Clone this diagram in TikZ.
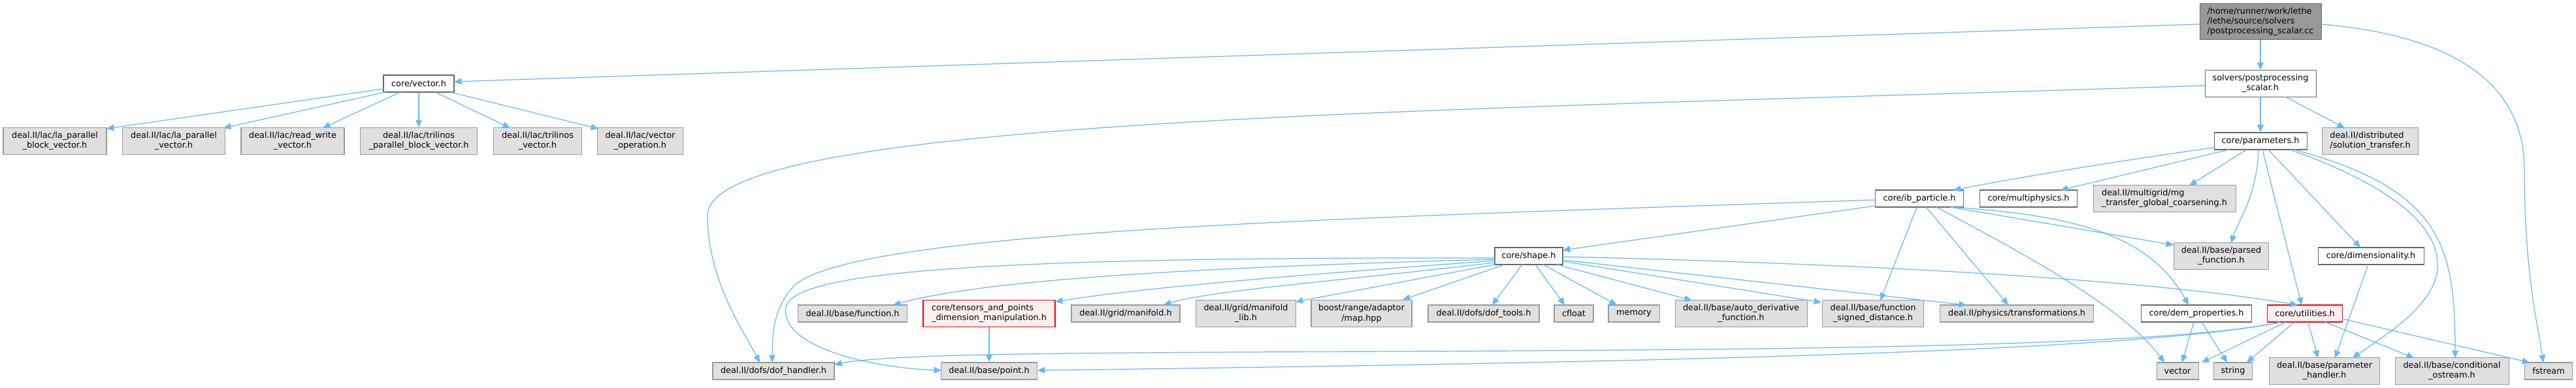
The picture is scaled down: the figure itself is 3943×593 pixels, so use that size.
\documentclass[tikz,border=0pt]{standalone}
\usepackage{fontspec}
\setmainfont{DejaVu Sans}
\usetikzlibrary{arrows.meta,calc}
\definecolor{edgec}{HTML}{63B8FF}
\definecolor{wborder}{HTML}{666666}
\definecolor{gborder}{HTML}{999999}
\definecolor{gfill}{HTML}{E0E0E0}
\definecolor{rfill}{HTML}{FFF0F0}
\definecolor{rborder}{HTML}{FF0000}
\definecolor{rootfill}{HTML}{999999}
\begin{document}
\begin{tikzpicture}[x=0.02cm,y=-0.02cm,
  font=\fontsize{7.3pt}{8.6pt}\selectfont,
  nd/.style={draw, line width=0.6pt, inner sep=0pt, align=center, minimum height=26*0.02cm},
  wb/.style={nd, draw=wborder, fill=white},
  gb/.style={nd, draw=gborder, fill=gfill},
  rb/.style={nd, draw=rborder, fill=rfill},
  rootbox/.style={nd, draw=wborder, fill=rootfill},
  bw/.style={minimum width=#1*0.02cm},
  tl/.style={minimum height=41*0.02cm},
  conn/.style={draw=edgec, line width=0.7pt, -{Triangle[length=6.5pt,width=5.5pt]}}
]
\useasboundingbox (0,0) rectangle (3943,593);
% row 1-2
\node[rootbox, bw=186, minimum height=55*0.02cm, align=left] (root) at (3460,33) {/home/runner/work/lethe\\/lethe/source/solvers\\/postprocessing\_scalar.cc};
\node[wb, bw=170, tl] (sol) at (3460,128) {solvers/postprocessing\\\_scalar.h};
\node[wb, bw=108] (vec) at (641,128) {core/vector.h};
% row 3
\node[gb, bw=158, tl] (lpbv) at (84,216) {deal.II/lac/la\_parallel\\\_block\_vector.h};
\node[gb, bw=157, tl] (lpv) at (266,216) {deal.II/lac/la\_parallel\\\_vector.h};
\node[gb, bw=158, tl] (rwv) at (448,216) {deal.II/lac/read\_write\\\_vector.h};
\node[gb, bw=179, tl] (tpbv) at (641,216) {deal.II/lac/trilinos\\\_parallel\_block\_vector.h};
\node[gb, bw=135, tl] (tv) at (823,216) {deal.II/lac/trilinos\\\_vector.h};
\node[gb, bw=131, tl] (vop) at (980,216) {deal.II/lac/vector\\\_operation.h};
\node[wb, bw=142] (par) at (3460,216) {core/parameters.h};
\node[gb, bw=147, tl, align=left] (st) at (3628,216) {deal.II/distributed\\/solution\_transfer.h};
% row 4
\node[wb, bw=135] (ib) at (2938,304) {core/ib\_particle.h};
\node[wb, bw=149] (mph) at (3105,304) {core/multiphysics.h};
\node[gb, bw=218, tl, align=left] (mg) at (3313,304) {deal.II/multigrid/mg\\\_transfer\_global\_coarsening.h};
% row 5
\node[wb, bw=104] (shape) at (2340,392) {core/shape.h};
\node[gb, bw=145, tl] (pf) at (3400,392) {deal.II/base/parsed\\\_function.h};
\node[wb, bw=162] (dim) at (3629,392) {core/dimensionality.h};
% row 6
\node[gb, bw=167] (fn) at (1305,480) {deal.II/base/function.h};
\node[rb, bw=202, tl, align=left] (tens) at (1514,480) {core/tensors\_and\_points\\\_dimension\_manipulation.h};
\node[gb, bw=166] (man) at (1723,480) {deal.II/grid/manifold.h};
\node[gb, bw=153, tl] (manl) at (1907,480) {deal.II/grid/manifold\\\_lib.h};
\node[gb, bw=154, tl] (boost) at (2084,480) {boost/range/adaptor\\/map.hpp};
\node[gb, bw=170] (dft) at (2271,480) {deal.II/dofs/dof\_tools.h};
\node[gb, bw=60] (cfl) at (2409,480) {cfloat};
\node[gb, bw=78] (mem) at (2501,480) {memory};
\node[gb, bw=202, tl] (adf) at (2665,480) {deal.II/base/auto\_derivative\\\_function.h};
\node[gb, bw=155, tl] (fsd) at (2867,480) {deal.II/base/function\\\_signed\_distance.h};
\node[gb, bw=235] (trf) at (3087,480) {deal.II/physics/transformations.h};
\node[wb, bw=169] (dem) at (3362,480) {core/dem\_properties.h};
\node[rb, bw=115] (util) at (3528,480) {core/utilities.h};
% row 7
\node[gb, bw=186] (dof) at (1184,568) {deal.II/dofs/dof\_handler.h};
\node[gb, bw=147] (pt) at (1514,568) {deal.II/base/point.h};
\node[gb, bw=64] (vecs) at (3333,568) {vector};
\node[gb, bw=59] (str) at (3418,568) {string};
\node[gb, bw=169, tl] (ph) at (3558,568) {deal.II/base/parameter\\\_handler.h};
\node[gb, bw=174, tl] (co) at (3753,568) {deal.II/base/conditional\\\_ostream.h};
\node[gb, bw=73] (fs) at (3901,568) {fstream};

% root edges
\draw[conn] ($(root)+(-93,4)$) -- ($(vec)+(54,-3)$);
\draw[conn] (root.south) -- (sol.north);
\draw[conn] ($(root)+(93,4)$) .. controls (3760,55) and (3864,130) .. (3864,260) .. controls (3864,420) and (3885,500) .. ($(fs)+(-8,-13)$);
% vector.h edges
\draw[conn] ($(vec)+(-54,8)$) -- ($(lpbv)+(79,-19)$);
\draw[conn] ($(vec)+(-51,13)$) -- ($(lpv)+(76,-20)$);
\draw[conn] ($(vec)+(-28,13)$) -- ($(rwv)+(46,-20)$);
\draw[conn] (vec.south) -- (tpbv.north);
\draw[conn] ($(vec)+(25,13)$) -- ($(tv)+(-42,-20)$);
\draw[conn] ($(vec)+(48,13)$) -- ($(vop)+(-64,-19)$);
% solvers edges
\draw[conn] (sol.south) -- (par.north);
\draw[conn] ($(sol)+(38,20)$) -- ($(st)+(-39,-20)$);
\draw[conn] ($(sol)+(-85,3)$) .. controls (2200,170) and (1083,180) .. (1083,330) .. controls (1083,430) and (1140,510) .. ($(dof)+(-21,-13)$);
% parameters edges
\draw[conn] ($(par)+(-71,10)$) .. controls (3250,245) and (3100,270) .. ($(ib)+(52,-13)$);
\draw[conn] ($(par)+(-48,13)$) -- ($(mph)+(49,-13)$);
\draw[conn] ($(par)+(-21,13)$) -- ($(mg)+(38,-20)$);
\draw[conn] ($(par)+(-3,13)$) .. controls (3455,300) and (3425,340) .. ($(pf)+(15,-20)$);
\draw[conn] ($(par)+(3,13)$) -- ($(util)+(-5,-13)$);
\draw[conn] ($(par)+(12,13)$) -- ($(dim)+(-16,-13)$);
\draw[conn] ($(par)+(45,13)$) .. controls (3620,270) and (3735,330) .. (3731,410) .. controls (3728,470) and (3640,520) .. ($(ph)+(43,-20)$);
\draw[conn] ($(par)+(51,13)$) .. controls (3740,290) and (3758,380) .. ($(co)+(5,-20)$);
% ib_particle edges
\draw[conn] ($(ib)+(-67,11)$) -- ($(shape)+(52,-9)$);
\draw[conn] ($(ib)+(-67,2)$) .. controls (2000,335) and (1320,355) .. (1218,435) .. controls (1188,465) and (1182,500) .. ($(dof)+(-2,-13)$);
\draw[conn] ($(ib)+(-4,13)$) -- ($(fsd)+(11,-20)$);
\draw[conn] ($(ib)+(10,13)$) -- ($(trf)+(-13,-13)$);
\draw[conn] ($(ib)+(26,13)$) .. controls (3100,390) and (3250,470) .. ($(vecs)+(-20,-13)$);
\draw[conn] ($(ib)+(47,13)$) -- ($(pf)+(-73,-17)$);
\draw[conn] ($(ib)+(49,13)$) .. controls (3180,330) and (3290,360) .. ($(dem)+(-12,-13)$);
% shape edges
\draw[conn] ($(shape)+(-52,5)$) .. controls (1800,410) and (1500,430) .. ($(fn)+(62,-13)$);
\draw[conn] ($(shape)+(-52,7)$) .. controls (2000,420) and (1750,440) .. ($(tens)+(101,-18)$);
\draw[conn] ($(shape)+(-52,10)$) .. controls (2050,430) and (1850,445) .. ($(man)+(58,-13)$);
\draw[conn] ($(shape)+(-52,13)$) -- ($(manl)+(76,-18)$);
\draw[conn] ($(shape)+(-37,13)$) -- ($(boost)+(63,-21)$);
\draw[conn] ($(shape)+(-10,13)$) -- ($(dft)+(13,-13)$);
\draw[conn] ($(shape)+(10,13)$) -- ($(cfl)+(-14,-13)$);
\draw[conn] ($(shape)+(22,13)$) -- ($(mem)+(-26,-13)$);
\draw[conn] ($(shape)+(43,13)$) -- ($(adf)+(-75,-20)$);
\draw[conn] ($(shape)+(52,8)$) -- ($(fsd)+(-79,-17)$);
\draw[conn] ($(shape)+(52,6)$) -- ($(trf)+(-77,-13)$);
\draw[conn] ($(shape)+(52,1)$) .. controls (2900,405) and (3300,430) .. ($(util)+(-11,-13)$);
\draw[conn] ($(shape)+(-52,3)$) .. controls (1450,393) and (1215,420) .. (1203,470) .. controls (1193,530) and (1330,563) .. ($(pt)+(-73,-1)$);
% tensors
\draw[conn] (tens.south) -- (pt.north);
% utilities edges
\draw[conn] ($(util)+(-38,13)$) .. controls (3300,535) and (2600,536) .. (1900,539) .. controls (1500,541) and (1350,545) .. ($(dof)+(93,-10)$);
\draw[conn] ($(util)+(-40,14)$) .. controls (3250,540) and (2500,555) .. ($(pt)+(74,-1)$);
\draw[conn] ($(util)+(-29,13)$) -- ($(vecs)+(37,-13)$);
\draw[conn] ($(util)+(-16,13)$) -- ($(str)+(21,-13)$);
\draw[conn] ($(util)+(5,13)$) -- ($(ph)+(-10,-20)$);
\draw[conn] ($(util)+(31,13)$) -- ($(co)+(-58,-20)$);
\draw[conn] ($(util)+(57,8)$) -- ($(fs)+(-29,-13)$);
% dem_properties
\draw[conn] ($(dem)+(-4,13)$) -- ($(vecs)+(7,-13)$);
\draw[conn] ($(dem)+(8,13)$) -- ($(str)+(-9,-13)$);
% dimensionality
\draw[conn] ($(dim)+(-4,13)$) -- ($(ph)+(16,-20)$);
\end{tikzpicture}
\end{document}
